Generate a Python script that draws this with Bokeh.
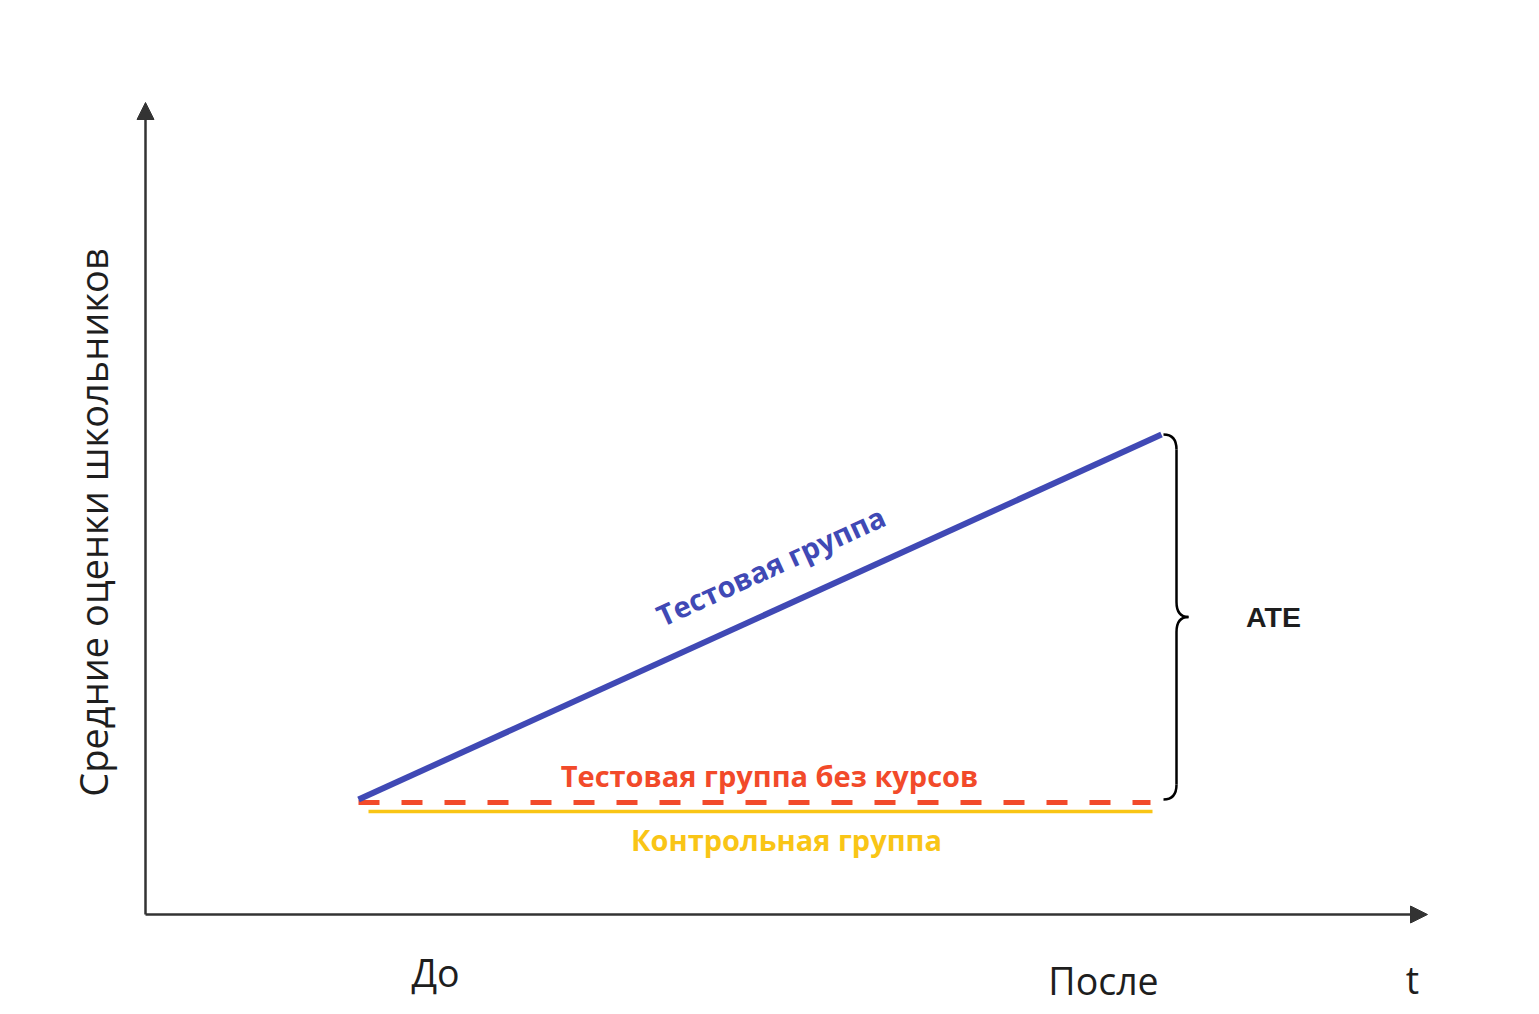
import numpy as np
from bokeh.plotting import figure
from bokeh.models import Range1d, Arrow, NormalHead, ColumnDataSource, Label
from bokeh.core.properties import value
from bokeh.embed import file_html
from bokeh.resources import INLINE

# ---- data (x: time units, y: mean score units) ----
periods = ["До", "После", "t"]
period_x = [2.90, 9.58, 12.67]
period_y = [-0.58, -0.66, -0.65]

test_x = [2.13, 10.16]
test_group = [1.15, 4.80]

no_course_x = [2.13, 10.05]
test_no_course = [1.12, 1.12]

control_x = [2.23, 10.07]
control_group = [1.03, 1.03]

x_axis_end = 12.82
y_axis_end = 8.12

y_title = "Средние оценки школьников"
test_label = "Тестовая группа"
no_course_label = "Тестовая группа без курсов"
control_label = "Контрольная группа"
ate_label = "ATE"

BLUE = "#4049b5"
RED = "#f24a2a"
YELLOW = "#f9c516"
AXIS = "#333333"
TEXT = "#1e1e1e"

W, H = 1525, 1008
PX = 100.0
X0 = 145  # canvas px of data x=0
Y0 = 914  # canvas px of data y=0

p = figure(width=W, height=H,
           x_range=Range1d(-X0 / PX, (W - X0) / PX),
           y_range=Range1d(-(H - Y0) / PX, Y0 / PX),
           output_backend="svg", toolbar_location=None,
           x_axis_location=None, y_axis_location=None,
           min_border=0, outline_line_color=None)
p.grid.visible = False
p.background_fill_color = "white"

# axes with arrow heads
p.add_layout(Arrow(end=NormalHead(size=17, fill_color=AXIS, line_color=AXIS, line_width=1),
                   x_start=0, y_start=0, x_end=x_axis_end, y_end=0,
                   line_color=AXIS, line_width=2.5))
p.add_layout(Arrow(end=NormalHead(size=17, fill_color=AXIS, line_color=AXIS, line_width=1),
                   x_start=0, y_start=0, x_end=0, y_end=y_axis_end,
                   line_color=AXIS, line_width=2.5))

# series
p.line(control_x, control_group, line_color=YELLOW, line_width=3.5)
p.line(no_course_x, test_no_course, line_color=RED, line_width=5, line_dash="21 22")
p.line(test_x, test_group, line_color=BLUE, line_width=6)

# curly brace for ATE (derived from data)
top, bot = test_group[1], test_group[0]
mid = (top + bot) / 2
bx0 = test_x[1] + 0.02
bx1 = bx0 + 0.13
tip = bx0 + 0.25
r = 0.15
p.quadratic(x0=[bx0, bx1, tip, bx1], y0=[top, mid + r, mid, bot + r],
            x1=[bx1, tip, bx1, bx0], y1=[top - r, mid, mid - r, bot],
            cx=[bx1, bx1, bx1, bx1], cy=[top, mid, mid, bot],
            line_color="black", line_width=2.5)
p.segment(x0=[bx1, bx1], y0=[top - r, mid - r], x1=[bx1, bx1], y1=[mid + r, bot + r],
          line_color="black", line_width=2.5)

# period labels
src = ColumnDataSource(dict(x=period_x, y=period_y, t=periods))
p.text(x="x", y="y", text="t", source=src, text_font=value("Open Sans"),
       text_font_size="37.5px", text_color=TEXT, text_align="center",
       text_baseline="alphabetic")

# y title
p.add_layout(Label(x=-0.53, y=3.92, text=y_title, angle=np.pi / 2, angle_units="rad",
                   text_font="Open Sans", text_font_size="38px", text_color=TEXT,
                   text_align="center", text_baseline="alphabetic"))

# series labels
ang = float(np.arctan2(test_group[1] - test_group[0], test_x[1] - test_x[0]))
p.add_layout(Label(x=6.25, y=3.49, text=test_label, angle=ang, angle_units="rad",
                   text_font="Open Sans", text_font_style="bold", text_font_size="29px",
                   text_color=BLUE, text_align="center", text_baseline="alphabetic"))
p.add_layout(Label(x=6.24, y=1.39, text=no_course_label,
                   text_font="Open Sans", text_font_style="bold", text_font_size="29px",
                   text_color=RED, text_align="center", text_baseline="alphabetic"))
p.add_layout(Label(x=6.41, y=0.75, text=control_label,
                   text_font="Open Sans", text_font_style="bold", text_font_size="29px",
                   text_color=YELLOW, text_align="center", text_baseline="alphabetic"))
p.add_layout(Label(x=11.28, y=2.98, text=ate_label,
                   text_font="Liberation Sans", text_font_style="bold", text_font_size="28.5px",
                   text_color=TEXT, text_align="center", text_baseline="alphabetic"))

open("out.html", "w").write(file_html(p, INLINE))
